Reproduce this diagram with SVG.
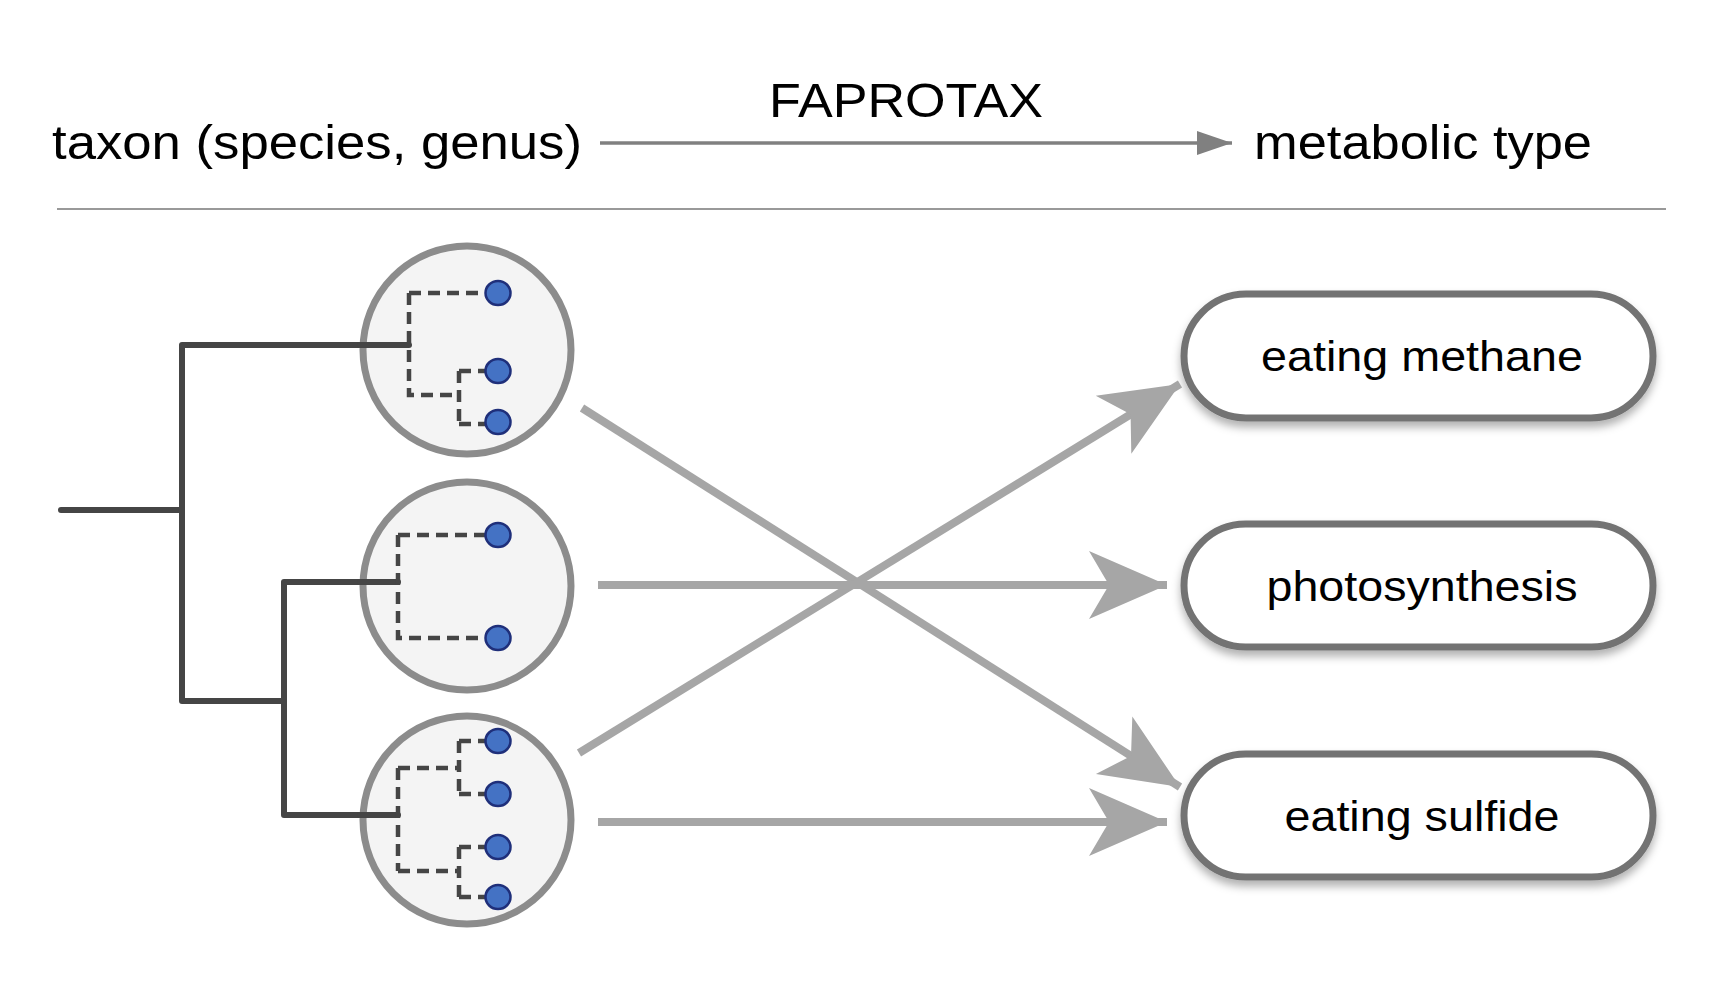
<svg xmlns="http://www.w3.org/2000/svg" width="1713" height="983" viewBox="0 0 1713 983">
<style>
text{font-family:"Liberation Sans",Arial,sans-serif;fill:#000}
.hdr{font-size:48px}
.lbl{font-size:43px;text-anchor:middle}
.tree{fill:none;stroke:#454545;stroke-width:6;stroke-linecap:round;stroke-linejoin:round}
.dash{fill:none;stroke:#454545;stroke-width:4.5;stroke-dasharray:12,7}
.clade{fill:#f4f4f4;stroke:#8c8c8c;stroke-width:7}
.dot{fill:#4472c4;stroke:#1f2f7a;stroke-width:2.5}
.pill{fill:#fff;stroke:#737373;stroke-width:7;filter:url(#sh)}
.conn{fill:none;stroke:#a6a6a6;stroke-width:8;stroke-linecap:butt;marker-end:url(#ah)}
</style>
<defs>
<filter id="sh" x="-10%" y="-20%" width="120%" height="150%"><feDropShadow dx="0" dy="6" stdDeviation="4" flood-color="#000" flood-opacity="0.3"/></filter>
<marker id="ah" markerUnits="userSpaceOnUse" viewBox="-80 -40 84 80" refX="0" refY="0" markerWidth="84" markerHeight="80" orient="auto"><path d="M0,0 L-78,-34 L-58,0 L-78,34 Z" fill="#a6a6a6"/></marker>
<marker id="ah2" markerUnits="userSpaceOnUse" viewBox="-36 -14 38 28" refX="0" refY="0" markerWidth="38" markerHeight="28" orient="auto"><path d="M0,0 L-35,-12 L-35,12 Z" fill="#808080"/></marker>
</defs>
<g id="header">
<text class="hdr" x="52" y="159" textLength="530" lengthAdjust="spacingAndGlyphs">taxon (species, genus)</text>
<text class="hdr" x="769" y="117" textLength="274" lengthAdjust="spacingAndGlyphs">FAPROTAX</text>
<text class="hdr" x="1254" y="159" textLength="338" lengthAdjust="spacingAndGlyphs">metabolic type</text>
<line x1="600" y1="143" x2="1232" y2="143" stroke="#808080" stroke-width="3.5" marker-end="url(#ah2)"/>
<line x1="57" y1="209" x2="1666" y2="209" stroke="#999" stroke-width="2"/>
</g>
<g id="tree"><path class="tree" d="M61,510 H182 M182,345 V701 M182,345 H409 M182,701 H284 M284,582 V815 M284,582 H398 M284,815 H398"/></g>
<g id="clade1">
<circle class="clade" cx="467" cy="350" r="104"/>
<path class="tree" d="M360,345 H409"/>
<path class="dash" d="M409,293 V395 H459 M409,293 H486 M459,371 V424 M459,371 H486 M459,424 H486"/>
<ellipse class="dot" cx="498" cy="293" rx="12.5" ry="12"/><ellipse class="dot" cx="498" cy="371" rx="12.5" ry="12"/><ellipse class="dot" cx="498" cy="422" rx="12.5" ry="12"/>
</g>
<g id="clade2">
<circle class="clade" cx="467" cy="586" r="104"/>
<path class="tree" d="M360,582 H398"/>
<path class="dash" d="M398,535 V638 H486 M398,535 H486"/>
<ellipse class="dot" cx="498" cy="535" rx="12.5" ry="12"/><ellipse class="dot" cx="498" cy="638" rx="12.5" ry="12"/>
</g>
<g id="clade3">
<circle class="clade" cx="467" cy="820" r="104"/>
<path class="tree" d="M360,815 H398"/>
<path class="dash" d="M398,768 V871 M398,768 H459 M459,741 V794 M459,741 H486 M459,794 H486 M398,871 H459 M459,847 V897 M459,847 H486 M459,897 H486"/>
<ellipse class="dot" cx="498" cy="741" rx="12.5" ry="12"/><ellipse class="dot" cx="498" cy="794" rx="12.5" ry="12"/><ellipse class="dot" cx="498" cy="847" rx="12.5" ry="12"/><ellipse class="dot" cx="498" cy="897" rx="12.5" ry="12"/>
</g>
<g id="methane"><rect class="pill" x="1184" y="294" width="469" height="124" rx="62"/><text class="lbl" x="1422" y="371" textLength="322" lengthAdjust="spacingAndGlyphs">eating methane</text></g>
<g id="photosynthesis"><rect class="pill" x="1184" y="524" width="469" height="123" rx="61.5"/><text class="lbl" x="1422" y="601" textLength="311" lengthAdjust="spacingAndGlyphs">photosynthesis</text></g>
<g id="sulfide"><rect class="pill" x="1184" y="754" width="469" height="123" rx="61.5"/><text class="lbl" x="1422" y="831" textLength="275" lengthAdjust="spacingAndGlyphs">eating sulfide</text></g>
<g id="connectors">
<line class="conn" x1="582" y1="408" x2="1180" y2="787"/>
<line class="conn" x1="579" y1="753" x2="1180" y2="384"/>
<line class="conn" x1="598" y1="585" x2="1167" y2="585"/>
<line class="conn" x1="598" y1="822" x2="1167" y2="822"/>
</g>
</svg>
